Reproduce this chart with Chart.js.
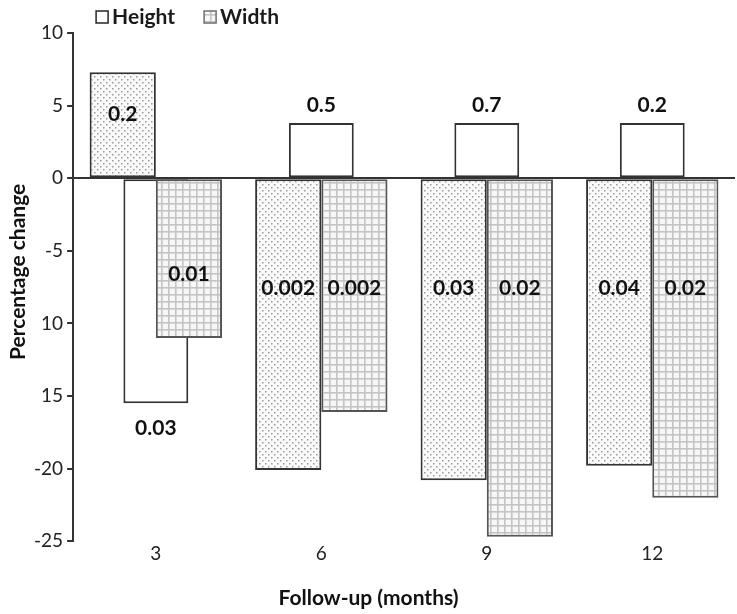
<!DOCTYPE html>
<html><head><meta charset="utf-8">
<script src="https://cdn.jsdelivr.net/npm/chart.js@4.4.0/dist/chart.umd.min.js"></script>
<style>html,body{margin:0;padding:0;background:#fff;overflow:hidden}</style>
</head><body>
<canvas id="c" width="737" height="614"></canvas>
<script>
// ---- data ----
const categories = ['3', '6', '9', '12'];
const dottedValues = [7.3, -20.1, -20.8, -19.8];
const heightValues = [-15.5, 3.8, 3.8, 3.8];
const widthValues = [-11.0, -16.1, -24.7, -22.0];
const dottedPLabels = ['0.2', '0.002', '0.03', '0.04'];
const heightPLabels = ['0.03', '0.5', '0.7', '0.2'];
const widthPLabels = ['0.01', '0.002', '0.02', '0.02'];
const yTickValues = [10, 5, 0, -5, -10, -15, -20, -25];
const yTickLabels = ['10', '5', '0', '-5', '10', '15', '-20', '-25'];
const legendNames = ['Height', 'Width'];
const xTitle = 'Follow-up (months)';
const yTitle = 'Percentage change';

const FONT = 'Lato, "Open Sans", sans-serif';
const EDGE = '#333333';

function makePattern(kind) {
  const c = document.createElement('canvas');
  const x = c.getContext('2d');
  if (kind === 'dots') {
    c.width = 6; c.height = 6;
    x.fillStyle = '#fafafa'; x.fillRect(0, 0, 6, 6);
    x.fillStyle = '#9a9a9a';
    x.fillRect(1, 1, 1.5, 1.5);
    x.fillRect(4, 4, 1.5, 1.5);
  } else {
    c.width = 7; c.height = 7;
    x.fillStyle = '#f7f7f7'; x.fillRect(0, 0, 7, 7);
    x.fillStyle = '#c4c4c4';
    x.fillRect(0, 0, 7, 1.6);
    x.fillRect(0, 0, 1.6, 7);
  }
  return document.createElement('canvas').getContext('2d').createPattern(c, 'repeat');
}
const dotsPattern = makePattern('dots');
const gridPattern = makePattern('grid');

const valueLabelPlugin = {
  id: 'pLabels',
  afterDatasetsDraw(chart) {
    const ctx = chart.ctx;
    const ys = chart.scales.y;
    ctx.save();
    ctx.font = 'bold 21px ' + FONT;
    ctx.fillStyle = '#111';
    ctx.textAlign = 'center';
    ctx.textBaseline = 'middle';
    chart.data.datasets.forEach((ds, i) => {
      const meta = chart.getDatasetMeta(i);
      meta.data.forEach((bar, j) => {
        const v = ds.data[j];
        let y;
        if (ds.labelMode === 'outside') {
          y = v >= 0 ? bar.y - 18 : bar.y + 25;
        } else {
          const m = Math.min(Math.abs(v) * 0.6, 7.6);
          y = ys.getPixelForValue(v >= 0 ? m : -m);
        }
        ctx.fillText(ds.pLabels[j], bar.x, y);
      });
    });
    ctx.restore();
  }
};

const legendAndTitlesPlugin = {
  id: 'legendTitles',
  afterDraw(chart) {
    const ctx = chart.ctx;
    const a = chart.chartArea;
    ctx.save();
    ctx.font = 'bold 21px ' + FONT;
    ctx.textBaseline = 'middle';
    ctx.textAlign = 'left';
    let x = a.left + 23;
    const y = 17;
    legendNames.forEach(name => {
      const ds = chart.data.datasets.find(d => d.label === name);
      ctx.fillStyle = ds.backgroundColor;
      ctx.fillRect(x, y - 6, 12, 12);
      ctx.strokeStyle = name === 'Width' ? '#777' : EDGE;
      ctx.lineWidth = 1.6;
      ctx.strokeRect(x, y - 6, 12, 12);
      ctx.fillStyle = '#1a1a1a';
      ctx.fillText(name, x + 16, y);
      x += 16 + ctx.measureText(name).width + 29;
    });
    // axis titles placed as in the reference figure
    ctx.textAlign = 'center';
    ctx.fillStyle = '#111';
    ctx.fillText(xTitle, chart.width / 2, a.bottom + 57);
    ctx.translate(18, a.top + (a.bottom - a.top) * 0.47);
    ctx.rotate(-Math.PI / 2);
    ctx.fillText(yTitle, 0, 0);
    ctx.restore();
  }
};

new Chart(document.getElementById('c'), {
  type: 'bar',
  data: {
    labels: categories,
    datasets: [
      {
        label: 'Dotted',
        data: dottedValues,
        pLabels: dottedPLabels,
        labelMode: 'inside',
        backgroundColor: dotsPattern,
        borderColor: EDGE,
        borderWidth: 2,
        borderSkipped: false,
        categoryPercentage: 0.8,
        barPercentage: 1.0
      },
      {
        label: 'Width',
        data: widthValues,
        pLabels: widthPLabels,
        labelMode: 'inside',
        backgroundColor: gridPattern,
        borderColor: '#555',
        borderWidth: 2,
        borderSkipped: false,
        categoryPercentage: 0.8,
        barPercentage: 1.0
      },
      {
        label: 'Height',
        data: heightValues,
        pLabels: heightPLabels,
        labelMode: 'outside',
        backgroundColor: '#ffffff',
        borderColor: EDGE,
        borderWidth: 2,
        borderSkipped: false,
        grouped: false,
        categoryPercentage: 0.8,
        barPercentage: 0.49
      }
    ]
  },
  options: {
    responsive: false,
    animation: false,
    devicePixelRatio: 1,
    layout: { padding: { top: 33, left: 30, right: 2, bottom: 48 } },
    plugins: {
      legend: { display: false },
      tooltip: { enabled: false }
    },
    scales: {
      x: {
        grid: { display: false, drawTicks: false },
        border: { display: false },
        ticks: { color: '#222', font: { family: FONT, size: 19 }, padding: 1 }
      },
      y: {
        min: -25,
        max: 10,
        afterBuildTicks(scale) {
          scale.ticks = yTickValues.map(v => ({ value: v }));
        },
        ticks: {
          color: '#222',
          font: { family: FONT, size: 19 },
          padding: 4,
          callback: (v) => {
            const k = yTickValues.indexOf(v);
            return k >= 0 ? yTickLabels[k] : '';
          }
        },
        grid: {
          drawOnChartArea: true,
          color: (c) => (c.tick && c.tick.value === 0 ? EDGE : 'rgba(0,0,0,0)'),
          lineWidth: 2,
          tickColor: EDGE,
          tickLength: 6
        },
        border: { display: true, color: EDGE, width: 2 }
      }
    }
  },
  plugins: [valueLabelPlugin, legendAndTitlesPlugin]
});
</script>
</body></html>
